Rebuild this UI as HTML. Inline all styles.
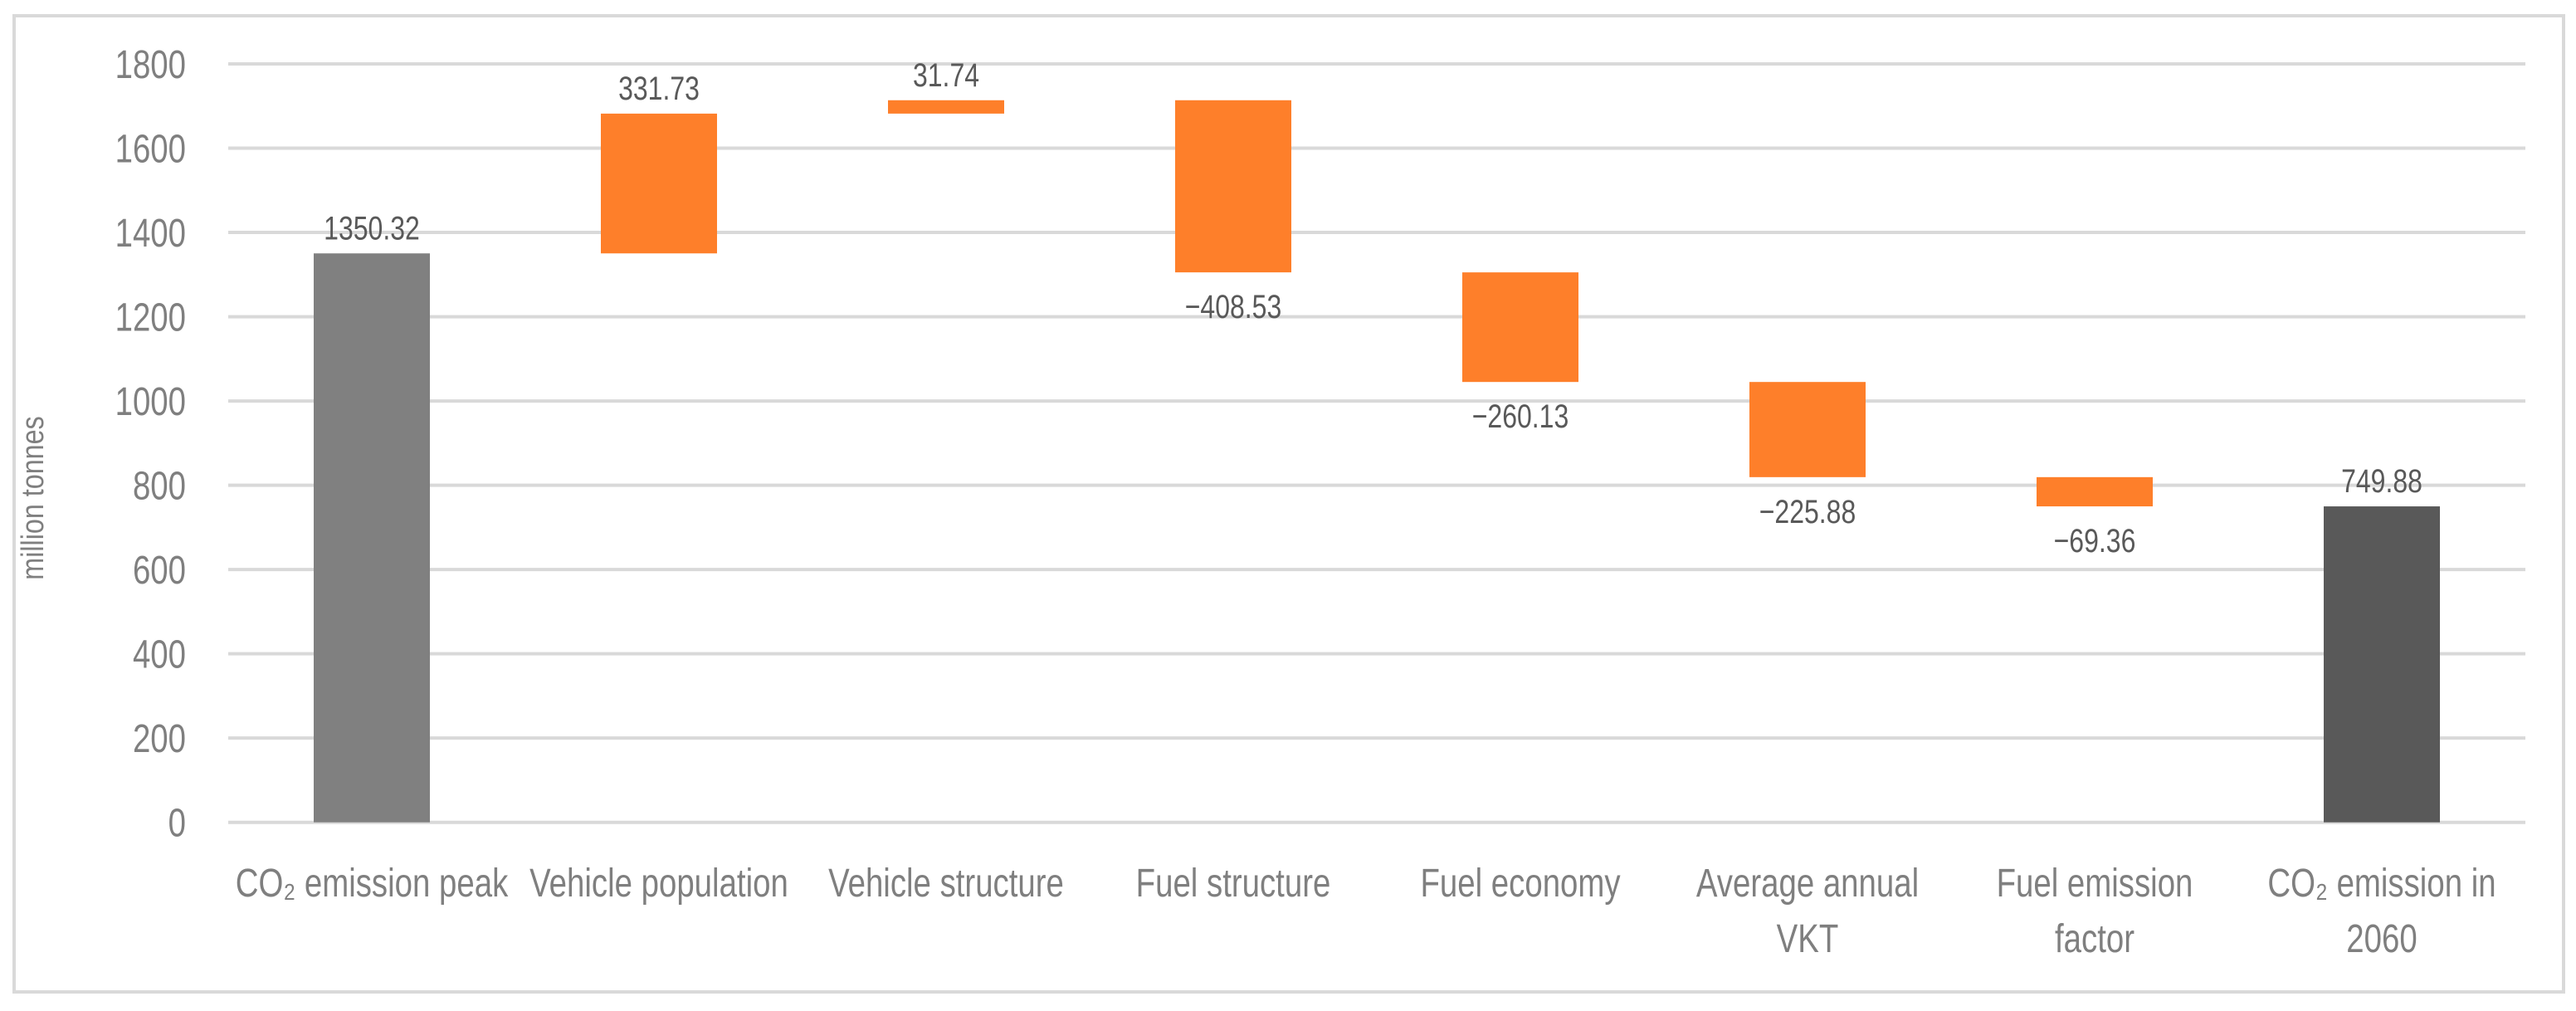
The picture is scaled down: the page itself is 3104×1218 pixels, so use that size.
<!DOCTYPE html>
<html><head><meta charset="utf-8"><style>
html,body{margin:0;padding:0;background:#fff;}
svg{display:block;font-family:"Liberation Sans Narrow","Liberation Sans",sans-serif;}
</style></head><body>
<svg id="chart" width="3104" height="1218" viewBox="0 0 3104 1218">
<rect x="17" y="19" width="3072" height="1176" fill="#fff" stroke="#d9d9d9" stroke-width="4"/>
<g id="grid"></g><g id="bars"></g><g id="labels"></g>
<text x="0" y="0" transform="translate(52,600) rotate(-90) scale(0.85,1)" text-anchor="middle" font-size="38" fill="#7f7f7f">million tonnes</text>
</svg>
<script>
const categories = [["CO\u2082 emission peak"],["Vehicle population"],["Vehicle structure"],["Fuel structure"],["Fuel economy"],["Average annual","VKT"],["Fuel emission","factor"],["CO\u2082 emission in","2060"]];
const values = [1350.32, 331.73, 31.74, -408.53, -260.13, -225.88, -69.36, 749.88];
const valueLabels = ["1350.32","331.73","31.74","\u2212408.53","\u2212260.13","\u2212225.88","\u221269.36","749.88"];
const isTotal = [true,false,false,false,false,false,false,true];
const ticks = [0,200,400,600,800,1000,1200,1400,1600,1800];

const NS="http://www.w3.org/2000/svg";
const x0=275, x1=3043, y0=990.7, yScale=913.7/1800, barW=140, SX=0.8;
const bw=(x1-x0)/categories.length;
const yPos=v=>y0-v*yScale;
const xCenter=i=>x0+bw*(i+0.5);
function mk(tag,attrs,parent){const e=document.createElementNS(NS,tag);for(const k in attrs)e.setAttribute(k,attrs[k]);parent.appendChild(e);return e;}
function txt(x,y,anchor,size,fill,parent){return mk('text',{x:0,y:0,transform:`translate(${x},${y}) scale(${SX},1)`,'text-anchor':anchor,'font-size':size,fill:fill},parent);}
const grid=document.getElementById('grid'),bars=document.getElementById('bars'),labels=document.getElementById('labels');
ticks.forEach(t=>{
  const l=mk('line',{x1:x0,x2:x1,y1:yPos(t),y2:yPos(t),stroke:'#d9d9d9','stroke-width':4},grid);
  
  
  const tx=txt(224,yPos(t)+17,'end',48,'#7f7f7f',grid);
  tx.textContent=t;
  
  
});
let cum=0;
values.forEach((v,i)=>{
  let lo,hi;
  if(isTotal[i]){lo=0;hi=v;cum=v;}
  else{const prev=cum;cum+=v;lo=Math.min(prev,cum);hi=Math.max(prev,cum);}
  const color=isTotal[i]?(i===0?'#808080':'#595959'):'#fe7f2a';
  const r=mk('rect',{x:xCenter(i)-barW/2,y:yPos(hi),width:barW,height:yPos(lo)-yPos(hi),fill:color},bars);
  
  
  const ly=v>=0?yPos(hi)-17:yPos(lo)+55;
  const t=txt(xCenter(i),ly,'middle',40,'#595959',labels);
  t.textContent=valueLabels[i];
  
  
});
categories.forEach((c,i)=>{
  c.forEach((line,j)=>{
    const t=txt(xCenter(i),1080+j*67,'middle',48,'#7f7f7f',labels);
    t.textContent=line;
    
    
  });
});
</script>
</body></html>
